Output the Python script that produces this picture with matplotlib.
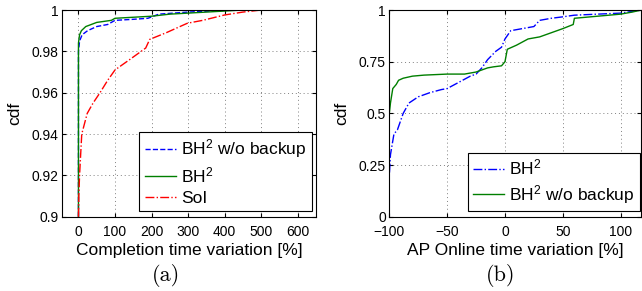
import matplotlib
matplotlib.use("Agg")
import matplotlib.pyplot as plt
import numpy as np

plt.rcParams["font.family"] = ["Liberation Sans", "DejaVu Sans"]
plt.rcParams["mathtext.fontset"] = "custom"
plt.rcParams["mathtext.rm"] = "Liberation Sans"
plt.rcParams["mathtext.it"] = "Liberation Sans:italic"
plt.rcParams["xtick.direction"] = "in"
plt.rcParams["ytick.direction"] = "in"

# (a) completion time variation [%] vs cdf
a_wo_x = [0, 0, 3, 10, 25, 50, 80, 100, 150, 190, 220, 300, 420, 650]
a_wo_y = [0.9, 0.980, 0.985, 0.988, 0.990, 0.992, 0.993, 0.995, 0.9955, 0.996, 0.998, 0.999, 1.0, 1.0]
a_bh_x = [0, 0, 3, 8, 20, 50, 90, 100, 200, 250, 350, 450, 650]
a_bh_y = [0.9, 0.984, 0.988, 0.990, 0.992, 0.994, 0.995, 0.996, 0.997, 0.998, 0.999, 1.0, 1.0]
a_soi_x = [0, 1, 3, 9, 24, 40, 59, 80, 100, 140, 184, 195, 240, 298, 340, 400, 450, 500, 650]
a_soi_y = [0.9, 0.91, 0.92, 0.94, 0.95, 0.955, 0.96, 0.966, 0.971, 0.976, 0.9816, 0.9858, 0.989, 0.9936, 0.995, 0.9976, 0.999, 1.0, 1.0]

# (b) AP online time variation [%] vs cdf
b_bh_x = [-100, -100, -99, -96, -93, -88, -83, -75, -65, -55, -50, -40, -30, -25, -20, -15, -8, -3, 0, 5, 15, 25, 30, 40, 50, 60, 80, 100, 118]
b_bh_y = [0.0, 0.2, 0.3, 0.4, 0.42, 0.5, 0.55, 0.58, 0.6, 0.615, 0.62, 0.65, 0.68, 0.69, 0.72, 0.76, 0.8, 0.82, 0.86, 0.9, 0.91, 0.92, 0.95, 0.96, 0.967, 0.975, 0.98, 0.985, 1.0]
b_wo_x = [-100, -100, -99, -97, -94, -92, -88, -80, -70, -50, -35, -25, -15, -10, -3, 0, 2, 10, 20, 30, 40, 45, 50, 59, 60, 80, 100, 110, 118]
b_wo_y = [0.0, 0.5, 0.55, 0.62, 0.64, 0.66, 0.67, 0.68, 0.685, 0.69, 0.69, 0.70, 0.72, 0.725, 0.73, 0.75, 0.81, 0.83, 0.86, 0.87, 0.89, 0.90, 0.91, 0.93, 0.96, 0.97, 0.98, 0.99, 1.0]

a_xticks = [0, 100, 200, 300, 400, 500, 600]
a_yticks = [0.9, 0.92, 0.94, 0.96, 0.98, 1.0]
a_ylabels = ["0.9", "0.92", "0.94", "0.96", "0.98", "1"]
b_xticks = [-100, -50, 0, 50, 100]
b_yticks = [0, 0.25, 0.5, 0.75, 1]
b_ylabels = ["0", "0.25", "0.5", "0.75", "1"]

blue = "#0000ff"
green = "#007f00"
red = "#ff0000"

fig = plt.figure(figsize=(6.42, 2.91), dpi=100)
ax1 = fig.add_axes([0.0966, 0.2553, 0.3956, 0.7103])
ax2 = fig.add_axes([0.6064, 0.2553, 0.3928, 0.7103])


def style(ax):
    ax.grid(True, linestyle=(0, (1, 3)), color="#808080", linewidth=0.7)
    ax.tick_params(labelsize=10, length=3, top=True, right=True)
    ax.tick_params(axis="x", pad=6)
    ax.tick_params(axis="y", pad=2.5)
    for s in ax.spines.values():
        s.set_linewidth(0.8)
    ax.set_ylabel("cdf", fontsize=12.5, labelpad=7)


def legend(ax, right):
    leg = ax.legend(loc="lower right", bbox_to_anchor=(right, 0.027), fontsize=12.5,
                    fancybox=False, edgecolor="black", framealpha=1,
                    borderpad=0.3, labelspacing=0.3, handlelength=1.8,
                    handletextpad=0.3, borderaxespad=0)
    leg.get_frame().set_linewidth(0.8)


ax1.plot(a_wo_x, a_wo_y, color=blue, linestyle="--", linewidth=1.0, label="BH$^2$ w/o backup")
ax1.plot(a_bh_x, a_bh_y, color=green, linestyle="-", linewidth=1.0, label="BH$^2$")
ax1.plot(a_soi_x, a_soi_y, color=red, linestyle="-.", linewidth=1.0, label="SoI")
ax1.set_xlim(-45, 650)
ax1.set_ylim(0.9, 1.0)
ax1.set_xticks(a_xticks)
ax1.set_yticks(a_yticks)
ax1.set_yticklabels(a_ylabels)
ax1.set_xlabel("Completion time variation [%]", fontsize=12.5, labelpad=3)
style(ax1)
legend(ax1, 0.983)

ax2.plot(b_bh_x, b_bh_y, color=blue, linestyle="-.", linewidth=1.0, label="BH$^2$")
ax2.plot(b_wo_x, b_wo_y, color=green, linestyle="-", linewidth=1.0, label="BH$^2$ w/o backup")
ax2.set_xlim(-100, 118)
ax2.set_ylim(0, 1)
ax2.set_xticks(b_xticks)
ax2.set_yticks(b_yticks)
ax2.set_yticklabels(b_ylabels)
ax2.set_xlabel("AP Online time variation [%]", fontsize=12.5, labelpad=3)
style(ax2)
legend(ax2, 0.994)

fig.text(0.259, 0.052, "(a)", family="cmr10", fontsize=16, ha="center", va="center")
fig.text(0.780, 0.052, "(b)", family="cmr10", fontsize=16, ha="center", va="center")

fig.savefig("out.png", dpi=100)
